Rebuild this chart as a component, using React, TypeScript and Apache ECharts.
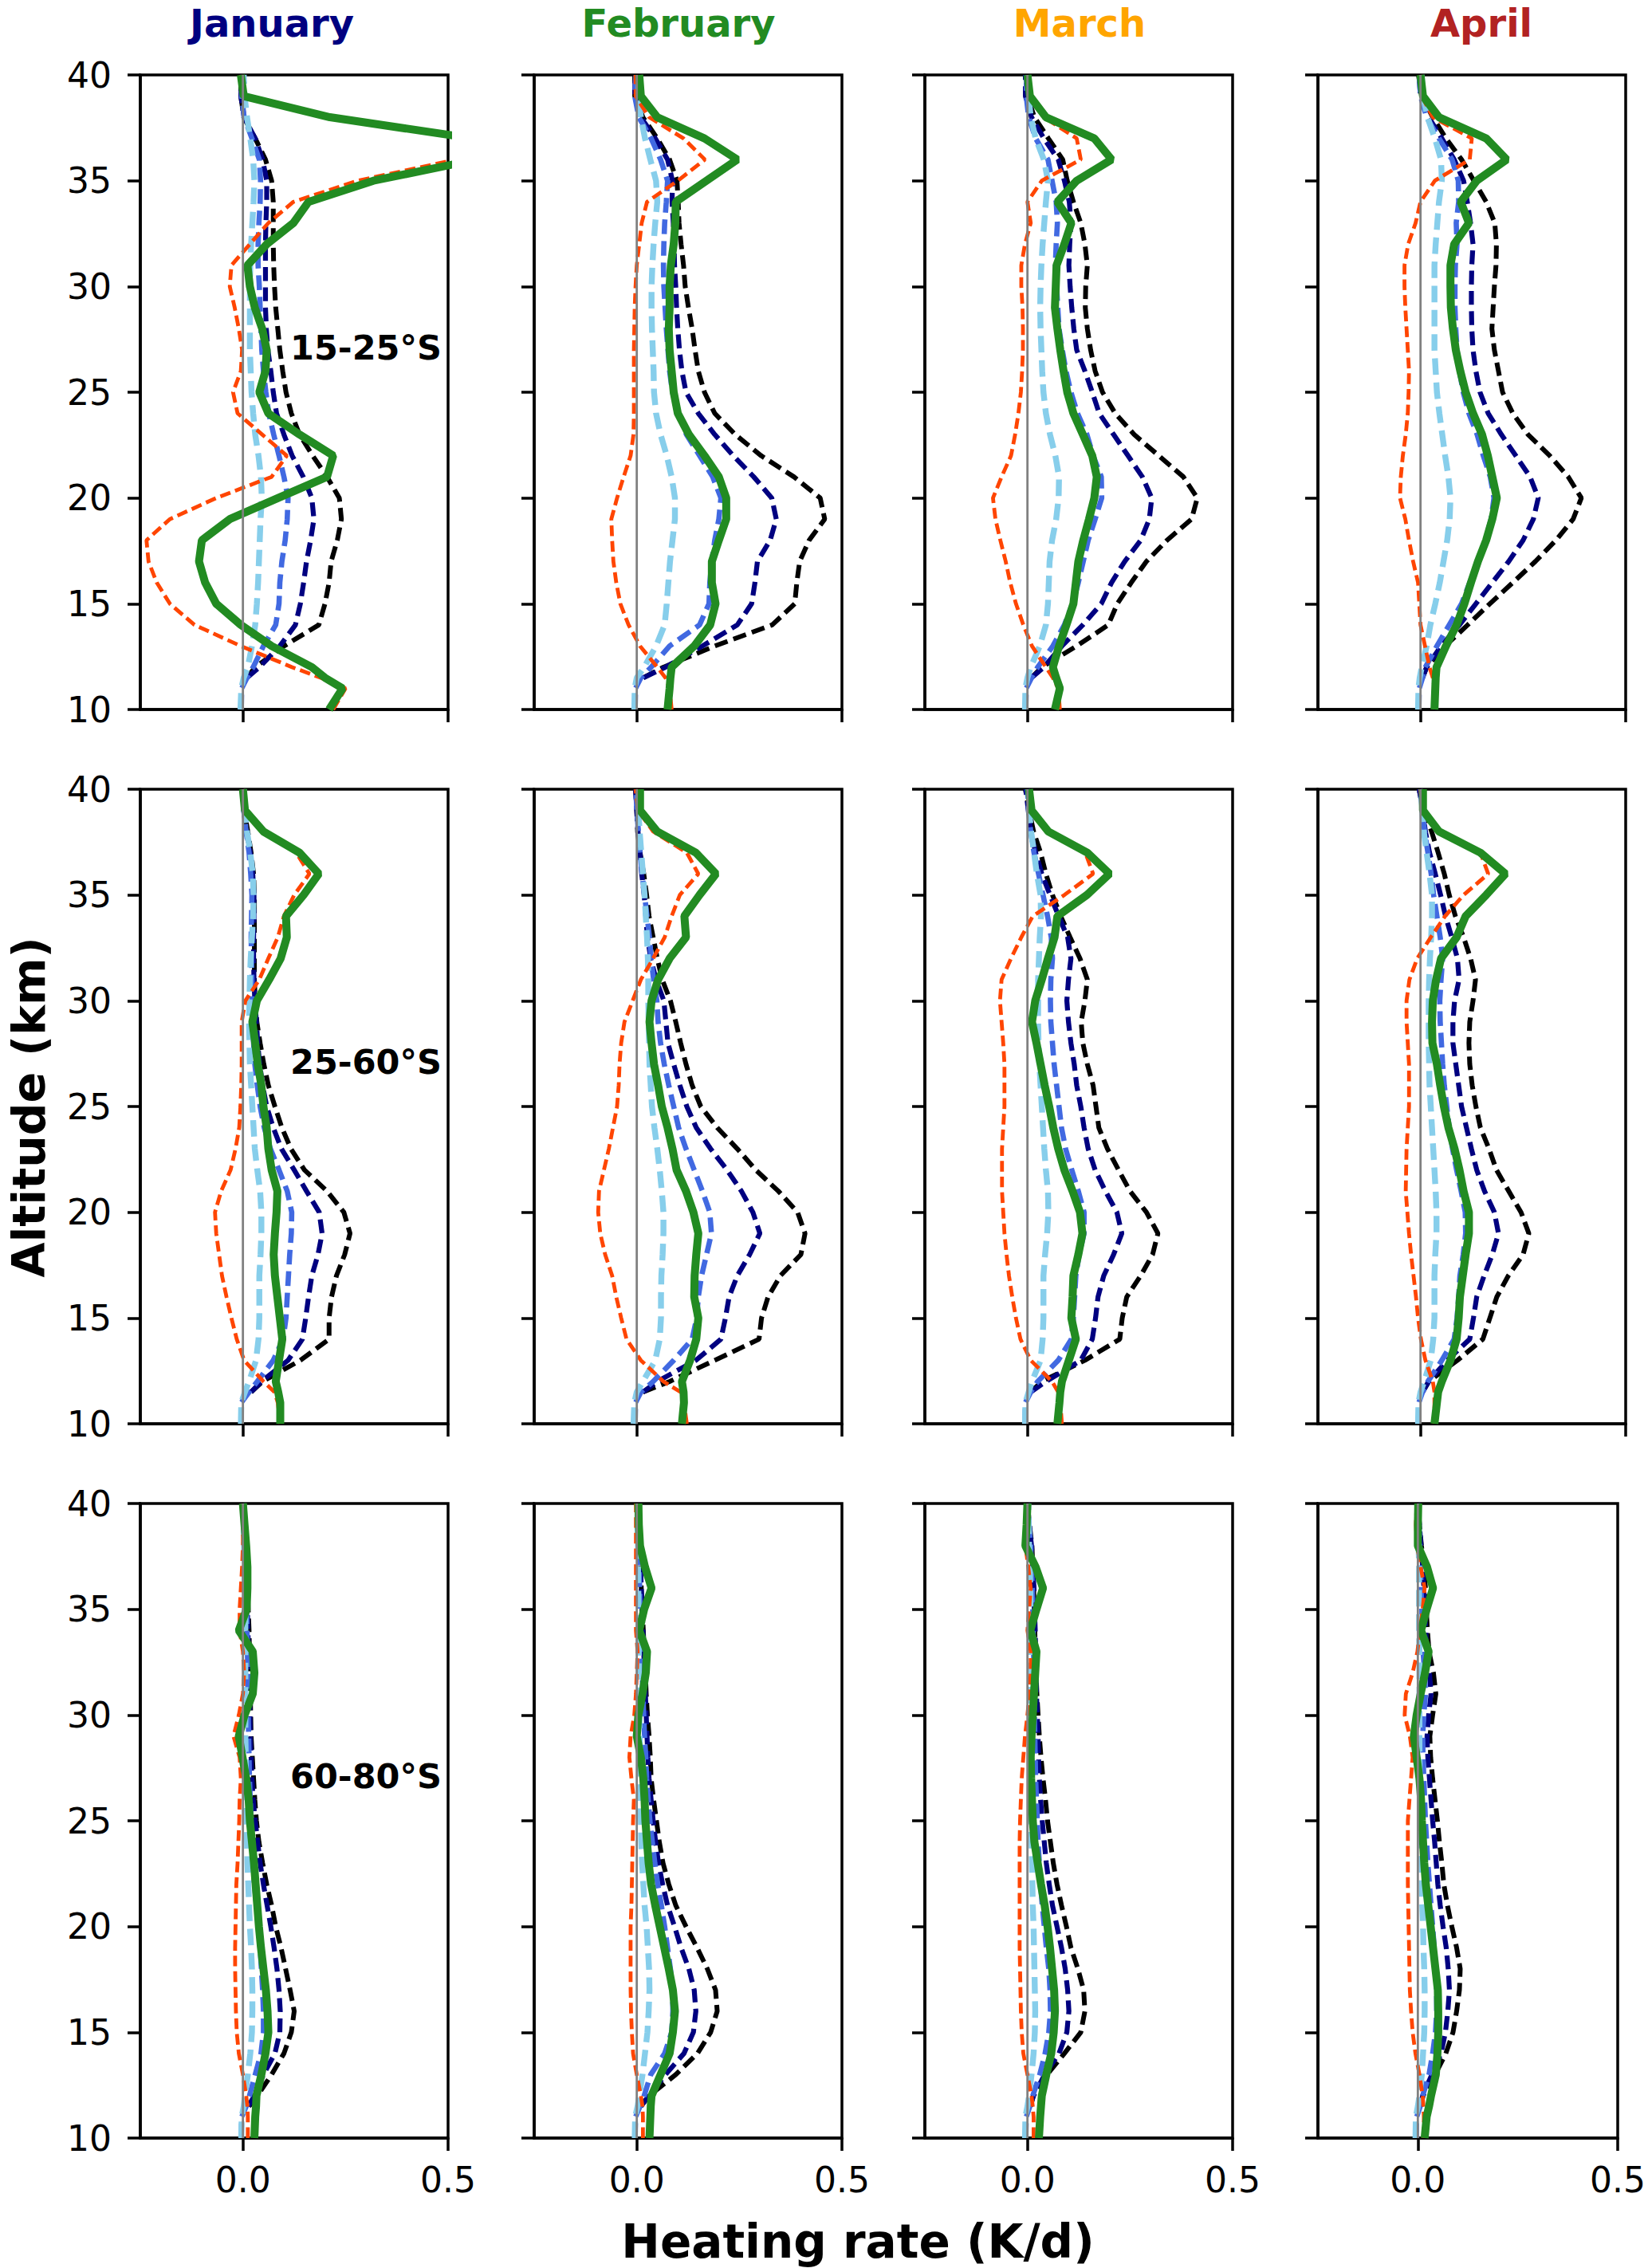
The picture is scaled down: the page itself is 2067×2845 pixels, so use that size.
import React, { useEffect, useRef } from 'react';
import * as echarts from 'echarts';

// altitude levels (km) shared by every profile
const ALTITUDE = [10, 11, 11.5, 12, 13, 14, 15, 16, 17, 18, 19, 20, 21, 22, 23, 24, 25, 26, 27, 28, 29, 30, 31, 32, 33, 34, 35, 36, 37, 38, 39, 40];

const MONTHS = ['January', 'February', 'March', 'April'];
const REGIONS = ['15-25°S', '25-60°S', '60-80°S'];
const X_TICKS = [0, 0.5];

// ---- 15-25°S ----
const jan1Black = [null, null, 0.01, 0.03, 0.1, 0.185, 0.2, 0.21, 0.215, 0.23, 0.24, 0.235, 0.205, 0.17, 0.138, 0.118, 0.105, 0.097, 0.09, 0.085, 0.08, 0.077, 0.075, 0.074, 0.074, 0.074, 0.07, 0.055, 0.03, 0.002, -0.005, -0.005];
const jan1Navy = [null, null, 0.01, 0.04, 0.09, 0.128, 0.14, 0.148, 0.155, 0.165, 0.173, 0.168, 0.147, 0.12, 0.1, 0.082, 0.074, 0.068, 0.061, 0.057, 0.055, 0.055, 0.055, 0.055, 0.056, 0.058, 0.058, 0.048, 0.03, 0.003, -0.005, -0.003];
const jan1Royal = [-0.004, -0.003, 0.01, 0.025, 0.05, 0.08, 0.088, 0.09, 0.095, 0.103, 0.108, 0.11, 0.1, 0.088, 0.075, 0.063, 0.056, 0.05, 0.046, 0.044, 0.042, 0.04, 0.037, 0.037, 0.039, 0.042, 0.043, 0.04, 0.022, 0.003, -0.003, 0];
const jan1Sky = [-0.006, -0.004, 0.002, 0.012, 0.022, 0.03, 0.034, 0.037, 0.039, 0.041, 0.043, 0.046, 0.044, 0.038, 0.03, 0.025, 0.021, 0.019, 0.017, 0.017, 0.017, 0.017, 0.018, 0.02, 0.023, 0.026, 0.028, 0.025, 0.018, 0.01, 0.004, 0.002];
const jan1Orange = [0.22, 0.25, 0.19, 0.12, -0.005, -0.118, -0.178, -0.21, -0.23, -0.235, -0.178, -0.065, 0.07, 0.107, 0.047, -0.013, -0.024, -0.005, -0.002, -0.01, -0.02, -0.032, -0.028, 0.017, 0.062, 0.123, 0.28, 0.52, 0.56, 0.21, 0.0, -0.005];
const jan1Green = [0.21, 0.243, 0.2, 0.168, 0.07, -0.005, -0.065, -0.092, -0.107, -0.1, -0.032, 0.086, 0.205, 0.22, 0.138, 0.062, 0.04, 0.055, 0.058, 0.047, 0.029, 0.017, 0.011, 0.058, 0.123, 0.16, 0.318, 0.57, 0.56, 0.212, 0.002, -0.005];

const feb1Black = [null, null, 0.016, 0.065, 0.19, 0.33, 0.385, 0.39, 0.397, 0.42, 0.458, 0.447, 0.383, 0.303, 0.24, 0.19, 0.165, 0.15, 0.142, 0.135, 0.126, 0.118, 0.114, 0.108, 0.103, 0.101, 0.098, 0.08, 0.05, 0.015, -0.005, -0.005];
const feb1Navy = [null, null, 0.016, 0.07, 0.16, 0.245, 0.28, 0.288, 0.294, 0.325, 0.34, 0.329, 0.285, 0.235, 0.19, 0.15, 0.12, 0.11, 0.104, 0.1, 0.097, 0.095, 0.092, 0.091, 0.089, 0.086, 0.087, 0.075, 0.045, 0.01, -0.005, -0.004];
const feb1Royal = [-0.004, -0.003, 0.01, 0.035, 0.08, 0.153, 0.176, 0.178, 0.183, 0.19, 0.2, 0.205, 0.185, 0.153, 0.121, 0.102, 0.087, 0.08, 0.076, 0.072, 0.069, 0.066, 0.065, 0.066, 0.068, 0.072, 0.075, 0.058, 0.035, 0.005, -0.005, -0.002];
const feb1Sky = [-0.006, -0.005, 0.0, 0.018, 0.047, 0.068, 0.073, 0.077, 0.081, 0.087, 0.093, 0.093, 0.085, 0.073, 0.058, 0.047, 0.042, 0.041, 0.039, 0.037, 0.036, 0.036, 0.038, 0.041, 0.045, 0.05, 0.047, 0.033, 0.02, 0.01, 0.004, 0.004];
const feb1Orange = [0.085, 0.08, 0.07, 0.05, 0.008, -0.02, -0.04, -0.05, -0.057, -0.06, -0.062, -0.048, -0.032, -0.015, -0.008, -0.007, -0.007, -0.007, -0.007, -0.006, -0.005, -0.003, 0.0, 0.006, 0.012, 0.025, 0.1, 0.166, 0.114, 0.03, -0.003, -0.003];
const feb1Green = [0.075, 0.08, 0.082, 0.085, 0.14, 0.179, 0.192, 0.183, 0.183, 0.2, 0.218, 0.218, 0.2, 0.165, 0.127, 0.1, 0.09, 0.085, 0.08, 0.078, 0.08, 0.08, 0.083, 0.09, 0.094, 0.095, 0.17, 0.245, 0.165, 0.05, 0.01, 0.006];

const mar1Black = [null, null, 0.01, 0.035, 0.12, 0.197, 0.219, 0.253, 0.29, 0.34, 0.4, 0.414, 0.38, 0.32, 0.26, 0.214, 0.183, 0.165, 0.154, 0.146, 0.141, 0.142, 0.146, 0.14, 0.13, 0.112, 0.097, 0.086, 0.051, 0.017, 0.0, -0.005];
const mar1Navy = [null, null, 0.01, 0.04, 0.084, 0.135, 0.18, 0.205, 0.237, 0.276, 0.297, 0.303, 0.28, 0.245, 0.21, 0.175, 0.158, 0.14, 0.12, 0.113, 0.108, 0.104, 0.101, 0.103, 0.106, 0.102, 0.09, 0.075, 0.04, 0.01, -0.005, -0.005];
const mar1Royal = [-0.004, -0.003, 0.01, 0.025, 0.062, 0.09, 0.11, 0.124, 0.136, 0.148, 0.165, 0.181, 0.18, 0.16, 0.145, 0.122, 0.106, 0.094, 0.085, 0.077, 0.074, 0.071, 0.068, 0.07, 0.073, 0.07, 0.06, 0.05, 0.02, 0.003, -0.003, -0.002];
const mar1Sky = [-0.006, -0.005, 0.0, 0.008, 0.03, 0.045, 0.05, 0.052, 0.054, 0.06, 0.07, 0.076, 0.077, 0.068, 0.055, 0.045, 0.039, 0.036, 0.034, 0.032, 0.031, 0.032, 0.034, 0.037, 0.041, 0.045, 0.05, 0.04, 0.02, 0.008, 0.003, 0.002];
const mar1Orange = [0.079, 0.075, 0.062, 0.045, 0.011, -0.01, -0.028, -0.042, -0.053, -0.066, -0.078, -0.084, -0.063, -0.04, -0.03, -0.022, -0.016, -0.013, -0.011, -0.011, -0.012, -0.015, -0.015, -0.006, 0.008, 0.0, 0.035, 0.13, 0.12, 0.04, 0.005, 0.0];
const mar1Green = [0.067, 0.079, 0.07, 0.062, 0.077, 0.095, 0.112, 0.118, 0.124, 0.136, 0.15, 0.163, 0.169, 0.158, 0.135, 0.112, 0.097, 0.088, 0.08, 0.073, 0.067, 0.069, 0.071, 0.09, 0.107, 0.073, 0.12, 0.205, 0.163, 0.045, 0.006, 0.0];

const apr1Black = [null, null, 0.005, 0.015, 0.06, 0.115, 0.169, 0.225, 0.28, 0.33, 0.372, 0.392, 0.36, 0.315, 0.262, 0.225, 0.2, 0.19, 0.18, 0.174, 0.177, 0.18, 0.184, 0.185, 0.181, 0.16, 0.13, 0.1, 0.062, 0.03, 0.003, -0.005];
const apr1Navy = [null, null, 0.005, 0.015, 0.05, 0.095, 0.135, 0.175, 0.215, 0.25, 0.275, 0.287, 0.267, 0.232, 0.197, 0.165, 0.145, 0.135, 0.128, 0.125, 0.124, 0.124, 0.125, 0.128, 0.122, 0.114, 0.105, 0.082, 0.052, 0.02, 0.0, -0.004];
const apr1Royal = [-0.004, -0.003, 0.005, 0.012, 0.04, 0.07, 0.1, 0.12, 0.14, 0.158, 0.172, 0.179, 0.17, 0.153, 0.138, 0.118, 0.104, 0.095, 0.089, 0.086, 0.084, 0.084, 0.085, 0.089, 0.087, 0.093, 0.092, 0.077, 0.045, 0.015, 0.0, -0.003];
const apr1Sky = [-0.006, -0.005, -0.002, 0.003, 0.015, 0.024, 0.036, 0.047, 0.056, 0.065, 0.071, 0.073, 0.068, 0.06, 0.053, 0.046, 0.04, 0.037, 0.034, 0.034, 0.034, 0.034, 0.034, 0.037, 0.041, 0.045, 0.052, 0.05, 0.035, 0.017, 0.006, 0.003];
const apr1Orange = [0.034, 0.034, 0.03, 0.022, 0.011, 0.0, -0.003, -0.006, -0.018, -0.028, -0.037, -0.05, -0.048, -0.043, -0.036, -0.031, -0.029, -0.028, -0.031, -0.034, -0.037, -0.039, -0.039, -0.03, -0.012, 0.0, 0.035, 0.12, 0.125, 0.03, 0.003, 0.0];
const apr1Green = [0.034, 0.036, 0.037, 0.039, 0.062, 0.088, 0.107, 0.123, 0.14, 0.16, 0.175, 0.186, 0.175, 0.164, 0.15, 0.128, 0.11, 0.097, 0.086, 0.079, 0.074, 0.073, 0.073, 0.082, 0.118, 0.098, 0.137, 0.21, 0.16, 0.045, 0.006, 0.0];

// ---- 25-60°S ----
const jan2Black = [null, null, 0.02, 0.048, 0.14, 0.21, 0.21, 0.216, 0.228, 0.248, 0.261, 0.246, 0.205, 0.15, 0.117, 0.095, 0.078, 0.062, 0.051, 0.042, 0.034, 0.03, 0.028, 0.028, 0.028, 0.028, 0.028, 0.026, 0.02, 0.012, 0.003, 0.0];
const jan2Navy = [null, null, 0.02, 0.045, 0.11, 0.145, 0.153, 0.16, 0.168, 0.183, 0.193, 0.186, 0.155, 0.125, 0.094, 0.074, 0.058, 0.048, 0.041, 0.036, 0.033, 0.029, 0.027, 0.026, 0.026, 0.027, 0.027, 0.024, 0.018, 0.008, 0.002, 0.0];
const jan2Royal = [-0.004, -0.004, 0.015, 0.035, 0.074, 0.098, 0.105, 0.108, 0.111, 0.114, 0.118, 0.119, 0.108, 0.088, 0.067, 0.052, 0.042, 0.035, 0.029, 0.026, 0.023, 0.022, 0.022, 0.021, 0.02, 0.021, 0.022, 0.019, 0.015, 0.008, 0.002, 0.0];
const jan2Sky = [-0.005, -0.004, 0.005, 0.015, 0.032, 0.038, 0.04, 0.04, 0.04, 0.043, 0.045, 0.045, 0.042, 0.035, 0.029, 0.026, 0.023, 0.02, 0.017, 0.016, 0.015, 0.016, 0.017, 0.019, 0.022, 0.025, 0.026, 0.024, 0.018, 0.01, 0.004, 0.003];
const jan2Orange = [0.091, 0.085, 0.077, 0.05, 0.003, -0.015, -0.028, -0.04, -0.051, -0.058, -0.065, -0.068, -0.053, -0.03, -0.018, -0.009, -0.006, -0.004, -0.003, -0.003, -0.003, 0.006, 0.04, 0.062, 0.085, 0.1, 0.125, 0.162, 0.13, 0.055, 0.005, 0.0];
const jan2Green = [0.091, 0.091, 0.086, 0.08, 0.088, 0.096, 0.09, 0.084, 0.078, 0.075, 0.078, 0.082, 0.084, 0.07, 0.062, 0.058, 0.05, 0.045, 0.036, 0.03, 0.023, 0.034, 0.064, 0.092, 0.107, 0.105, 0.148, 0.185, 0.138, 0.05, 0.005, 0.0];

const feb2Black = [null, null, 0.015, 0.08, 0.19, 0.298, 0.304, 0.32, 0.35, 0.4, 0.41, 0.392, 0.345, 0.29, 0.245, 0.196, 0.156, 0.135, 0.12, 0.107, 0.095, 0.082, 0.062, 0.05, 0.04, 0.03, 0.024, 0.017, 0.008, 0.002, 0.0, -0.003];
const feb2Navy = [null, null, 0.015, 0.05, 0.144, 0.205, 0.216, 0.225, 0.245, 0.275, 0.3, 0.283, 0.255, 0.22, 0.18, 0.145, 0.122, 0.105, 0.09, 0.076, 0.071, 0.066, 0.047, 0.034, 0.026, 0.022, 0.018, 0.012, 0.008, 0.003, 0.0, -0.003];
const feb2Royal = [-0.004, -0.003, 0.01, 0.04, 0.09, 0.135, 0.146, 0.15, 0.158, 0.17, 0.182, 0.178, 0.16, 0.14, 0.12, 0.102, 0.09, 0.078, 0.067, 0.058, 0.052, 0.049, 0.041, 0.035, 0.031, 0.025, 0.019, 0.013, 0.008, 0.004, 0.0, -0.002];
const feb2Sky = [-0.008, -0.006, 0.0, 0.015, 0.045, 0.056, 0.059, 0.059, 0.06, 0.063, 0.065, 0.065, 0.061, 0.056, 0.05, 0.043, 0.037, 0.034, 0.031, 0.03, 0.029, 0.028, 0.028, 0.027, 0.025, 0.022, 0.019, 0.015, 0.011, 0.007, 0.004, 0.004];
const feb2Orange = [0.122, 0.115, 0.107, 0.065, 0.01, -0.025, -0.038, -0.05, -0.06, -0.077, -0.089, -0.094, -0.092, -0.08, -0.068, -0.058, -0.048, -0.044, -0.042, -0.038, -0.03, -0.01, 0.01, 0.04, 0.068, 0.085, 0.105, 0.15, 0.122, 0.04, 0.003, -0.003];
const feb2Green = [0.11, 0.115, 0.114, 0.11, 0.13, 0.145, 0.15, 0.14, 0.141, 0.145, 0.15, 0.138, 0.12, 0.097, 0.087, 0.075, 0.061, 0.052, 0.042, 0.036, 0.031, 0.036, 0.052, 0.08, 0.12, 0.116, 0.153, 0.193, 0.144, 0.05, 0.008, 0.008];

const mar2Black = [null, null, 0.008, 0.035, 0.14, 0.225, 0.231, 0.242, 0.276, 0.305, 0.318, 0.29, 0.25, 0.222, 0.195, 0.174, 0.167, 0.16, 0.146, 0.135, 0.131, 0.14, 0.146, 0.128, 0.104, 0.081, 0.061, 0.045, 0.032, 0.015, 0.004, -0.005];
const mar2Navy = [null, null, 0.008, 0.045, 0.13, 0.158, 0.166, 0.172, 0.186, 0.21, 0.23, 0.218, 0.19, 0.165, 0.148, 0.138, 0.13, 0.12, 0.114, 0.106, 0.1, 0.096, 0.1, 0.106, 0.098, 0.076, 0.055, 0.035, 0.02, 0.008, 0.002, -0.004];
const mar2Royal = [-0.006, -0.005, 0.008, 0.025, 0.075, 0.107, 0.112, 0.115, 0.118, 0.126, 0.138, 0.138, 0.124, 0.108, 0.093, 0.083, 0.077, 0.071, 0.065, 0.061, 0.057, 0.056, 0.057, 0.061, 0.058, 0.049, 0.038, 0.027, 0.016, 0.008, 0.003, 0.0];
const mar2Sky = [-0.006, -0.005, 0.003, 0.011, 0.032, 0.037, 0.039, 0.039, 0.039, 0.043, 0.048, 0.051, 0.05, 0.045, 0.041, 0.038, 0.035, 0.032, 0.029, 0.027, 0.026, 0.026, 0.026, 0.028, 0.03, 0.033, 0.032, 0.023, 0.016, 0.009, 0.004, 0.003];
const mar2Orange = [0.084, 0.08, 0.075, 0.06, 0.008, -0.017, -0.028, -0.037, -0.045, -0.051, -0.056, -0.059, -0.062, -0.062, -0.062, -0.059, -0.056, -0.056, -0.056, -0.059, -0.063, -0.067, -0.063, -0.04, -0.015, 0.013, 0.09, 0.16, 0.141, 0.05, 0.005, 0.0];
const mar2Green = [0.073, 0.078, 0.08, 0.084, 0.101, 0.118, 0.107, 0.11, 0.112, 0.124, 0.134, 0.128, 0.11, 0.09, 0.075, 0.063, 0.053, 0.042, 0.032, 0.022, 0.011, 0.019, 0.035, 0.05, 0.066, 0.073, 0.145, 0.2, 0.146, 0.051, 0.01, 0.004];

const apr2Black = [null, null, 0.005, 0.02, 0.09, 0.152, 0.169, 0.186, 0.214, 0.25, 0.264, 0.245, 0.215, 0.185, 0.167, 0.146, 0.135, 0.126, 0.12, 0.118, 0.12, 0.128, 0.134, 0.122, 0.105, 0.085, 0.07, 0.058, 0.043, 0.027, 0.01, -0.004];
const apr2Navy = [null, null, 0.005, 0.02, 0.065, 0.12, 0.129, 0.137, 0.155, 0.175, 0.19, 0.18, 0.156, 0.137, 0.124, 0.112, 0.1, 0.093, 0.086, 0.079, 0.079, 0.083, 0.094, 0.09, 0.076, 0.061, 0.049, 0.036, 0.022, 0.012, 0.005, -0.003];
const apr2Royal = [-0.005, -0.004, 0.005, 0.018, 0.052, 0.082, 0.089, 0.093, 0.096, 0.104, 0.11, 0.109, 0.099, 0.088, 0.078, 0.07, 0.064, 0.058, 0.054, 0.051, 0.048, 0.047, 0.05, 0.054, 0.048, 0.04, 0.032, 0.026, 0.018, 0.01, 0.004, 0.0];
const apr2Sky = [-0.006, -0.005, 0.0, 0.009, 0.025, 0.031, 0.034, 0.034, 0.034, 0.036, 0.039, 0.039, 0.037, 0.034, 0.031, 0.028, 0.025, 0.022, 0.021, 0.02, 0.02, 0.02, 0.021, 0.023, 0.026, 0.028, 0.028, 0.022, 0.015, 0.008, 0.004, 0.003];
const apr2Orange = [0.034, 0.034, 0.034, 0.03, 0.012, 0.001, -0.006, -0.011, -0.017, -0.023, -0.028, -0.032, -0.036, -0.035, -0.034, -0.031, -0.028, -0.028, -0.028, -0.031, -0.034, -0.034, -0.027, -0.008, 0.025, 0.06, 0.105, 0.165, 0.146, 0.04, 0.004, 0.0];
const apr2Green = [0.034, 0.04, 0.043, 0.052, 0.073, 0.088, 0.093, 0.096, 0.103, 0.11, 0.118, 0.118, 0.105, 0.095, 0.083, 0.068, 0.057, 0.048, 0.04, 0.029, 0.028, 0.03, 0.038, 0.05, 0.088, 0.11, 0.16, 0.207, 0.146, 0.045, 0.006, 0.006];

// ---- 60-80°S ----
const jan3Black = [null, null, 0.015, 0.035, 0.07, 0.1, 0.118, 0.125, 0.115, 0.104, 0.093, 0.08, 0.07, 0.058, 0.048, 0.039, 0.033, 0.029, 0.026, 0.023, 0.02, 0.019, 0.018, 0.017, 0.016, 0.015, 0.013, 0.011, 0.008, 0.005, 0.002, 0.0];
const jan3Navy = [null, null, 0.013, 0.028, 0.05, 0.078, 0.09, 0.091, 0.088, 0.083, 0.076, 0.068, 0.059, 0.05, 0.042, 0.036, 0.03, 0.025, 0.022, 0.02, 0.018, 0.017, 0.016, 0.015, 0.014, 0.012, 0.011, 0.009, 0.007, 0.004, 0.002, 0.0];
const jan3Royal = [-0.004, -0.003, 0.008, 0.016, 0.03, 0.044, 0.05, 0.05, 0.048, 0.045, 0.042, 0.038, 0.033, 0.028, 0.025, 0.022, 0.02, 0.018, 0.016, 0.015, 0.014, 0.013, 0.012, 0.012, 0.011, 0.01, 0.009, 0.008, 0.006, 0.004, 0.002, 0.0];
const jan3Sky = [-0.004, -0.003, 0.002, 0.005, 0.012, 0.018, 0.022, 0.023, 0.023, 0.022, 0.02, 0.017, 0.015, 0.013, 0.011, 0.01, 0.009, 0.008, 0.007, 0.007, 0.006, 0.006, 0.006, 0.006, 0.006, 0.006, 0.006, 0.005, 0.004, 0.003, 0.002, 0.002];
const jan3Orange = [0.012, 0.012, 0.011, 0.008, 0.0, -0.01, -0.015, -0.017, -0.018, -0.019, -0.019, -0.018, -0.017, -0.016, -0.013, -0.011, -0.009, -0.008, -0.005, -0.008, -0.023, -0.01, 0.0, 0.003, 0.0, -0.008, -0.008, -0.005, -0.002, 0.0, 0.0, 0.0];
const jan3Green = [0.028, 0.03, 0.032, 0.033, 0.045, 0.055, 0.062, 0.06, 0.056, 0.05, 0.044, 0.039, 0.035, 0.031, 0.027, 0.022, 0.017, 0.014, 0.008, -0.001, -0.01, 0.004, 0.024, 0.028, 0.024, -0.01, 0.009, 0.011, 0.011, 0.008, 0.004, 0.0];

const feb3Black = [null, null, 0.01, 0.03, 0.095, 0.148, 0.18, 0.196, 0.192, 0.172, 0.147, 0.12, 0.095, 0.078, 0.064, 0.055, 0.048, 0.041, 0.035, 0.033, 0.03, 0.026, 0.023, 0.021, 0.018, 0.016, 0.013, 0.011, 0.009, 0.007, 0.004, 0.002];
const feb3Navy = [null, null, 0.01, 0.03, 0.07, 0.115, 0.138, 0.144, 0.14, 0.127, 0.108, 0.092, 0.075, 0.063, 0.053, 0.046, 0.04, 0.035, 0.03, 0.027, 0.025, 0.023, 0.021, 0.019, 0.017, 0.015, 0.013, 0.011, 0.009, 0.006, 0.003, 0.001];
const feb3Royal = [-0.004, -0.003, 0.008, 0.018, 0.034, 0.068, 0.085, 0.088, 0.087, 0.082, 0.075, 0.068, 0.06, 0.051, 0.044, 0.038, 0.032, 0.028, 0.024, 0.022, 0.019, 0.017, 0.015, 0.013, 0.011, 0.009, 0.008, 0.007, 0.006, 0.004, 0.002, 0.001];
const feb3Sky = [-0.005, -0.004, 0.002, 0.006, 0.014, 0.02, 0.026, 0.029, 0.031, 0.03, 0.027, 0.024, 0.019, 0.016, 0.013, 0.011, 0.01, 0.009, 0.008, 0.008, 0.007, 0.006, 0.006, 0.005, 0.005, 0.004, 0.004, 0.004, 0.003, 0.003, 0.002, 0.002];
const feb3Orange = [0.015, 0.015, 0.014, 0.01, 0.0, -0.009, -0.012, -0.014, -0.015, -0.015, -0.015, -0.015, -0.013, -0.012, -0.011, -0.01, -0.009, -0.007, -0.013, -0.018, -0.015, -0.006, -0.002, 0.0, 0.002, -0.002, -0.002, -0.002, -0.002, -0.002, -0.002, -0.002];
const feb3Green = [0.031, 0.033, 0.034, 0.036, 0.058, 0.08, 0.088, 0.093, 0.088, 0.078, 0.067, 0.056, 0.045, 0.035, 0.029, 0.025, 0.021, 0.019, 0.016, 0.01, 0.0, 0.004, 0.014, 0.022, 0.025, 0.006, 0.018, 0.036, 0.02, 0.008, 0.005, 0.004];

const mar3Black = [null, null, 0.008, 0.014, 0.048, 0.09, 0.13, 0.14, 0.137, 0.123, 0.106, 0.095, 0.083, 0.072, 0.063, 0.056, 0.049, 0.044, 0.038, 0.033, 0.029, 0.026, 0.023, 0.021, 0.019, 0.018, 0.017, 0.015, 0.013, 0.011, 0.005, 0.0];
const mar3Navy = [null, null, 0.006, 0.015, 0.042, 0.077, 0.096, 0.101, 0.098, 0.092, 0.083, 0.072, 0.061, 0.053, 0.046, 0.041, 0.036, 0.032, 0.029, 0.027, 0.026, 0.024, 0.022, 0.021, 0.02, 0.019, 0.017, 0.016, 0.013, 0.01, 0.004, 0.0];
const mar3Royal = [-0.004, -0.003, 0.006, 0.013, 0.03, 0.043, 0.052, 0.056, 0.055, 0.052, 0.046, 0.041, 0.036, 0.032, 0.029, 0.026, 0.024, 0.022, 0.02, 0.019, 0.018, 0.017, 0.016, 0.016, 0.015, 0.014, 0.013, 0.012, 0.01, 0.008, 0.004, 0.0];
const mar3Sky = [-0.006, -0.005, 0.0, 0.004, 0.01, 0.015, 0.018, 0.019, 0.018, 0.017, 0.016, 0.015, 0.013, 0.012, 0.011, 0.01, 0.009, 0.008, 0.007, 0.006, 0.006, 0.006, 0.006, 0.006, 0.007, 0.007, 0.008, 0.007, 0.006, 0.004, 0.003, 0.002];
const mar3Orange = [0.015, 0.015, 0.013, 0.01, 0.0, -0.01, -0.014, -0.016, -0.017, -0.018, -0.019, -0.019, -0.019, -0.019, -0.019, -0.019, -0.018, -0.016, -0.014, -0.01, -0.006, 0.0, 0.005, 0.008, 0.008, 0.0, 0.004, 0.008, 0.002, -0.005, -0.002, 0.0];
const mar3Green = [0.028, 0.031, 0.033, 0.035, 0.046, 0.058, 0.064, 0.067, 0.065, 0.06, 0.055, 0.049, 0.042, 0.033, 0.025, 0.017, 0.013, 0.011, 0.009, 0.008, 0.01, 0.013, 0.016, 0.019, 0.022, 0.007, 0.022, 0.038, 0.02, -0.005, -0.002, 0.0];

const apr3Black = [null, null, 0.008, 0.013, 0.043, 0.07, 0.088, 0.097, 0.104, 0.106, 0.097, 0.085, 0.074, 0.065, 0.06, 0.054, 0.049, 0.043, 0.037, 0.032, 0.03, 0.037, 0.045, 0.039, 0.028, 0.024, 0.021, 0.019, 0.015, 0.009, 0.004, 0.0];
const apr3Navy = [null, null, 0.006, 0.012, 0.035, 0.058, 0.069, 0.075, 0.079, 0.076, 0.071, 0.063, 0.056, 0.05, 0.046, 0.042, 0.037, 0.033, 0.029, 0.025, 0.023, 0.027, 0.033, 0.029, 0.022, 0.02, 0.017, 0.015, 0.012, 0.008, 0.004, 0.0];
const apr3Royal = [-0.004, -0.003, 0.006, 0.012, 0.028, 0.037, 0.044, 0.047, 0.047, 0.045, 0.041, 0.037, 0.033, 0.029, 0.025, 0.022, 0.019, 0.017, 0.015, 0.013, 0.012, 0.015, 0.019, 0.017, 0.013, 0.011, 0.01, 0.008, 0.007, 0.005, 0.003, 0.0];
const apr3Sky = [-0.006, -0.005, 0.0, 0.004, 0.01, 0.013, 0.016, 0.017, 0.017, 0.016, 0.014, 0.013, 0.011, 0.01, 0.009, 0.008, 0.007, 0.006, 0.005, 0.004, 0.004, 0.004, 0.004, 0.004, 0.004, 0.003, 0.003, 0.003, 0.003, 0.002, 0.002, 0.002];
const apr3Orange = [0.015, 0.015, 0.014, 0.012, 0.004, -0.006, -0.013, -0.017, -0.02, -0.021, -0.022, -0.023, -0.024, -0.025, -0.025, -0.025, -0.025, -0.021, -0.017, -0.013, -0.02, -0.033, -0.03, -0.013, -0.001, 0.005, 0.012, 0.017, 0.007, -0.002, -0.005, -0.003];
const apr3Green = [0.017, 0.022, 0.028, 0.033, 0.045, 0.049, 0.051, 0.051, 0.05, 0.044, 0.038, 0.032, 0.026, 0.02, 0.016, 0.013, 0.01, 0.008, 0.004, -0.003, -0.01, -0.003, 0.007, 0.018, 0.027, 0.008, 0.022, 0.038, 0.023, 0.0, 0.0, 0.001];

// panels in row-major order (row = latitude band, column = month)
const PANELS = [
  [jan1Black, jan1Navy, jan1Royal, jan1Sky, jan1Orange, jan1Green],
  [feb1Black, feb1Navy, feb1Royal, feb1Sky, feb1Orange, feb1Green],
  [mar1Black, mar1Navy, mar1Royal, mar1Sky, mar1Orange, mar1Green],
  [apr1Black, apr1Navy, apr1Royal, apr1Sky, apr1Orange, apr1Green],
  [jan2Black, jan2Navy, jan2Royal, jan2Sky, jan2Orange, jan2Green],
  [feb2Black, feb2Navy, feb2Royal, feb2Sky, feb2Orange, feb2Green],
  [mar2Black, mar2Navy, mar2Royal, mar2Sky, mar2Orange, mar2Green],
  [apr2Black, apr2Navy, apr2Royal, apr2Sky, apr2Orange, apr2Green],
  [jan3Black, jan3Navy, jan3Royal, jan3Sky, jan3Orange, jan3Green],
  [feb3Black, feb3Navy, feb3Royal, feb3Sky, feb3Orange, feb3Green],
  [mar3Black, mar3Navy, mar3Royal, mar3Sky, mar3Orange, mar3Green],
  [apr3Black, apr3Navy, apr3Royal, apr3Sky, apr3Orange, apr3Green],
];

// styles & layout
const FONT = 'DejaVu Sans';
const MONTH_COLORS = ['#000080', '#228B22', '#FFA500', '#B22222'];
const LINE_STYLES = [
  { color: '#000000', width: 6.0, dashed: true },
  { color: '#000080', width: 6.2, dashed: true },
  { color: '#4169E1', width: 6.6, dashed: true },
  { color: '#87CEEB', width: 7.4, dashed: true },
  { color: '#FF4500', width: 4.8, dashed: true },
  { color: '#228B22', width: 10.0, dashed: false },
];
const COL_LEFT = [176, 670, 1160, 1653];
const ROW_TOP = [94, 990, 1886];
const PANEL_W = 386;
const PANEL_H = 796;
const TITLE_X = [341, 851, 1354, 1858];
const X_MIN = -0.25;
const X_MAX = 0.5;
const Y_MIN = 10;
const Y_MAX = 40;
const REGION_ALT = 27.1;

const App: React.FC = () => {
  const chartRef = useRef<HTMLDivElement>(null);

  useEffect(() => {
    if (!chartRef.current) return;
    const chart = echarts.init(chartRef.current, undefined, { renderer: 'svg' });

    const grids: any[] = [];
    const xAxes: any[] = [];
    const yAxes: any[] = [];
    const series: any[] = [];
    const graphics: any[] = [];

    const axisLineStyle = { color: '#000', width: 3.5 };

    PANELS.forEach((profiles, i) => {
      const r = Math.floor(i / 4);
      const c = i % 4;

      grids.push({
        left: COL_LEFT[c],
        top: ROW_TOP[r],
        width: PANEL_W,
        height: PANEL_H,
        show: true,
        borderColor: '#000',
        borderWidth: 3.5,
        backgroundColor: 'transparent',
      });

      xAxes.push({
        type: 'value',
        gridIndex: i,
        min: X_MIN,
        max: X_MAX,
        axisLine: { show: true, onZero: false, lineStyle: axisLineStyle },
        axisTick: { show: true, customValues: X_TICKS, length: 16, lineStyle: axisLineStyle },
        axisLabel: {
          show: r === 2,
          customValues: X_TICKS,
          formatter: (v: number) => v.toFixed(1),
          fontSize: 44,
          fontFamily: FONT,
          color: '#000',
          margin: 30,
        },
        splitLine: { show: false },
      });

      yAxes.push({
        type: 'value',
        gridIndex: i,
        min: Y_MIN,
        max: Y_MAX,
        interval: 5,
        axisLine: { show: true, onZero: false, lineStyle: axisLineStyle },
        axisTick: { show: true, length: 16, lineStyle: axisLineStyle },
        axisLabel: {
          show: c === 0,
          fontSize: 44,
          fontFamily: FONT,
          color: '#000',
          margin: 36,
        },
        splitLine: { show: false },
      });

      profiles.forEach((vals, k) => {
        const st = LINE_STYLES[k];
        series.push({
          type: 'line',
          xAxisIndex: i,
          yAxisIndex: i,
          data: ALTITUDE.map((a, j) => [vals[j], a]).filter((p) => p[0] !== null),
          symbol: 'none',
          showSymbol: false,
          silent: true,
          clip: true,
          lineStyle: {
            color: st.color,
            width: st.width,
            type: st.dashed ? [2.8 * st.width, 1.3 * st.width] : 'solid',
            cap: 'butt',
          },
        });
      });

      // zero reference line
      series.push({
        type: 'line',
        xAxisIndex: i,
        yAxisIndex: i,
        data: [[0, Y_MIN], [0, Y_MAX]],
        symbol: 'none',
        silent: true,
        lineStyle: { color: '#808080', width: 2.8 },
      });
    });

    MONTHS.forEach((m, c) => {
      graphics.push({
        type: 'text',
        x: TITLE_X[c],
        y: 29,
        style: {
          text: m,
          fill: MONTH_COLORS[c],
          fontSize: 48,
          fontWeight: 'bold',
          fontFamily: FONT,
          align: 'center',
          verticalAlign: 'middle',
        },
      });
    });

    REGIONS.forEach((label, r) => {
      graphics.push({
        type: 'text',
        x: COL_LEFT[0] + PANEL_W - 8,
        y: ROW_TOP[r] + ((Y_MAX - REGION_ALT) / (Y_MAX - Y_MIN)) * PANEL_H,
        style: {
          text: label,
          fill: '#000',
          fontSize: 43,
          fontWeight: 'bold',
          fontFamily: FONT,
          align: 'right',
          verticalAlign: 'middle',
        },
      });
    });

    graphics.push({
      type: 'text',
      x: 1076,
      y: 2812,
      style: {
        text: 'Heating rate (K/d)',
        fill: '#000',
        fontSize: 58,
        fontWeight: 'bold',
        fontFamily: FONT,
        align: 'center',
        verticalAlign: 'middle',
      },
    });

    graphics.push({
      type: 'text',
      x: 36,
      y: 1389,
      rotation: Math.PI / 2,
      style: {
        text: 'Altitude (km)',
        fill: '#000',
        fontSize: 57,
        fontWeight: 'bold',
        fontFamily: FONT,
        align: 'center',
        verticalAlign: 'middle',
      },
    });

    chart.setOption({
      animation: false,
      backgroundColor: '#ffffff',
      grid: grids,
      xAxis: xAxes,
      yAxis: yAxes,
      series,
      graphic: { elements: graphics },
    });

    const handleResize = () => chart.resize();
    window.addEventListener('resize', handleResize);

    return () => {
      window.removeEventListener('resize', handleResize);
      chart.dispose();
    };
  }, []);

  return (
    <div
      ref={chartRef}
      style={{ position: 'absolute', left: 0, top: 0, width: 2067, height: 2845 }}
    />
  );
};

export default App;
